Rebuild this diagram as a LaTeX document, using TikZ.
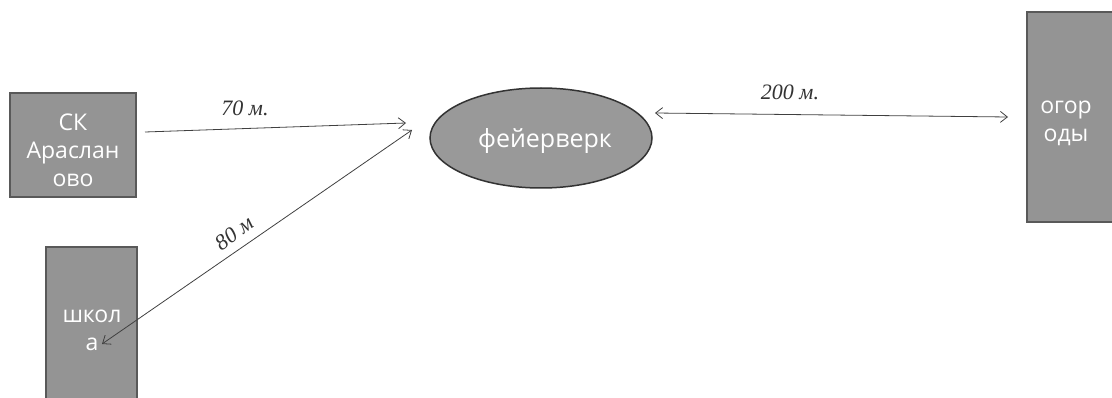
\documentclass[tikz,border=0pt]{standalone}
\usepackage{fontspec}
\setmainfont{Open Sans}
\newfontfamily\handfont{Liberation Serif}
\usetikzlibrary{arrows.meta,shapes.geometric}
\begin{document}
\begin{tikzpicture}[x=1pt,y=-1pt,
  boxtext/.style={text=white,font=\fontsize{23}{28}\selectfont,align=center,inner sep=0pt},
  place/.style={draw=black!65,line width=1.3pt,fill=black!42,boxtext},
  conn/.style={draw=black!75,line width=0.8pt,-{Straight Barb[length=7pt,width=11pt]}},
  dist/.style={font=\handfont\itshape\fontsize{22}{24}\selectfont,text=black!80}]
\useasboundingbox (0,0) rectangle (1112,398);
\begin{scope}
\clip (0,0) rectangle (1112,398);
\node[place,minimum width=126pt,minimum height=104pt] (sk) at (73,145) {};
\node[boxtext] (sktxt) at (73,150) {СК\\Араслан\\ово};
\node[place,minimum width=91pt,minimum height=170pt] (school) at (91.5,332) {};
\node[boxtext] (schooltxt) at (92,330) {школ\\а};
\node[place,minimum width=110pt,minimum height=210pt] (gardens) at (1082,117) {};
\node[boxtext] (gardentxt) at (1066,123) {огор\\оды};
\node[draw=black!80,line width=1.5pt,fill=black!40,ellipse,minimum width=222pt,minimum height=100pt,inner sep=0pt] (fw) at (541,138) {};
\node[boxtext,font=\fontsize{25}{28}\selectfont] (fwtxt) at (545,141) {фейерверк};
\end{scope}
\coordinate (a1s) at (145,132);
\coordinate (a1e) at (406,123);
\coordinate (a2s) at (102,344);
\coordinate (a2e) at (412,130);
\coordinate (a3s) at (655,113);
\coordinate (a3e) at (1008,117);
\draw[conn] (a1s) -- (a1e);
\draw[conn,{Straight Barb[length=7pt,width=11pt]}-{Straight Barb[length=7pt,width=11pt]}] (a2s) -- (a2e);
\draw[conn,{Straight Barb[length=7pt,width=11pt]}-{Straight Barb[length=7pt,width=11pt]}] (a3s) -- (a3e);
\node[dist] (l1) at (245,108) {70 м.};
\node[dist,rotate=36] (l2) at (234,233) {80 м};
\node[dist] (l3) at (790,92) {200 м.};
\end{tikzpicture}
\end{document}
